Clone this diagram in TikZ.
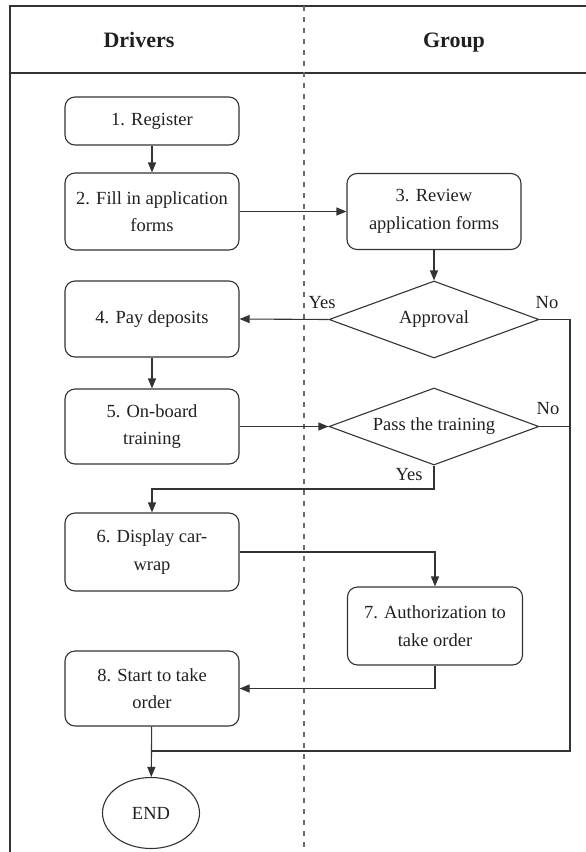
\documentclass[tikz,border=0pt]{standalone}
\usepackage{fontspec}
\setmainfont{Liberation Serif}
\usepackage{xcolor}
\usepackage{tikz}
\usetikzlibrary{arrows.meta,shapes.geometric,calc}
\definecolor{inkline}{HTML}{333333}
\definecolor{inktext}{HTML}{231F20}
\definecolor{laneline}{HTML}{6A6A6A}

\tikzset{
  base/.style={font=\fontsize{18.5}{27.5}\selectfont, text=inktext},
  stepbox/.style={base, draw=inkline, line width=1.1pt, rounded corners=10pt,
    minimum width=174pt, minimum height=77pt, align=center, inner sep=2pt},
  decision/.style={base, draw=inkline, line width=1.1pt, diamond, shape aspect=2.73,
    minimum width=210pt, minimum height=77pt, inner sep=0pt},
  terminal/.style={base, draw=inkline, line width=1.1pt, ellipse,
    minimum width=97pt, minimum height=71pt},
  lanehead/.style={font=\fontsize{22}{26}\selectfont\bfseries, text=inktext, anchor=base},
  tag/.style={base},
  flow/.style={draw=inkline, line width=1.1pt},
  >={Triangle[length=10pt,width=8pt]}
}

\begin{document}
\begin{tikzpicture}[x=1pt, y=-1pt]
      \useasboundingbox (0,0) rectangle (586,852);

      % swimlane frame
      \draw[draw=inkline, line width=1.4pt] (586,6) -- (10,6) -- (10,852);
      \draw[draw=inkline, line width=1.4pt] (10,73) -- (586,73);
      \draw[draw=laneline, line width=1.3pt, dash pattern=on 5pt off 6pt] (304,6) -- (304,852);
      \node[lanehead] (drivers) at (139,47) {Drivers};
      \node[lanehead] (group) at (454,47) {Group};

      % driver steps
      \node[stepbox, minimum height=48pt] (reg) at (152,121) {1. Register};
      \node[stepbox] (fill) at (152,211.5) {2. Fill in application\\forms};
      \node[stepbox, minimum height=76pt] (deposit) at (152,319) {4. Pay deposits};
      \node[stepbox, minimum height=75pt] (training) at (152,426.5) {5. On-board\\training};
      \node[stepbox, minimum height=78pt] (display) at (152,552) {6. Display car-\\wrap};
      \node[stepbox, minimum height=75pt] (start) at (152,688.5) {8. Start to take\\order};
      \node[terminal] (finish) at (151,813) {END};

      % group steps
      \node[stepbox, minimum height=76pt] (review) at (434,211.5) {3. Review\\application forms};
      \node[decision] (approval) at (434,319.5) {Approval};
      \node[decision] (pass) at (434,426.5) {Pass the training};
      \node[stepbox, minimum width=175pt, minimum height=78pt] (auth) at (435,626) {7. Authorization to\\take order};

      \coordinate (rail) at (570,751);
      \coordinate (merge) at (152,751);
      \coordinate (passbend) at (152,489);

      % connectors
      \draw[flow, ->] (reg) -- (fill);
      \draw[flow, ->] (fill) -- (review);
      \draw[flow, ->] (review) -- (approval);
      \draw[flow, ->] (approval.west) -- (deposit.east);
      \draw[flow, ->] (deposit) -- (training);
      \draw[flow, ->] (training.east) -- (pass.west);
      \draw[flow, ->] (pass.south) |- (passbend) -- (display.north);
      \draw[flow, ->] (display.east) -| (auth.north);
      \draw[flow, ->] (auth.south) |- (start.east);
      \draw[flow, ->] (start) -- (finish);
      \draw[flow] (approval.east) -| (rail) -- (merge);
      \draw[flow] (pass.east) -- (pass.east -| rail);

      % branch labels
      \node[tag] (yesa) at (322,303) {Yes};
      \node[tag] (noa) at (547,303) {No};
      \node[tag] (nob) at (548,409) {No};
      \node[tag] (yesb) at (409,475) {Yes};
\end{tikzpicture}
\end{document}
